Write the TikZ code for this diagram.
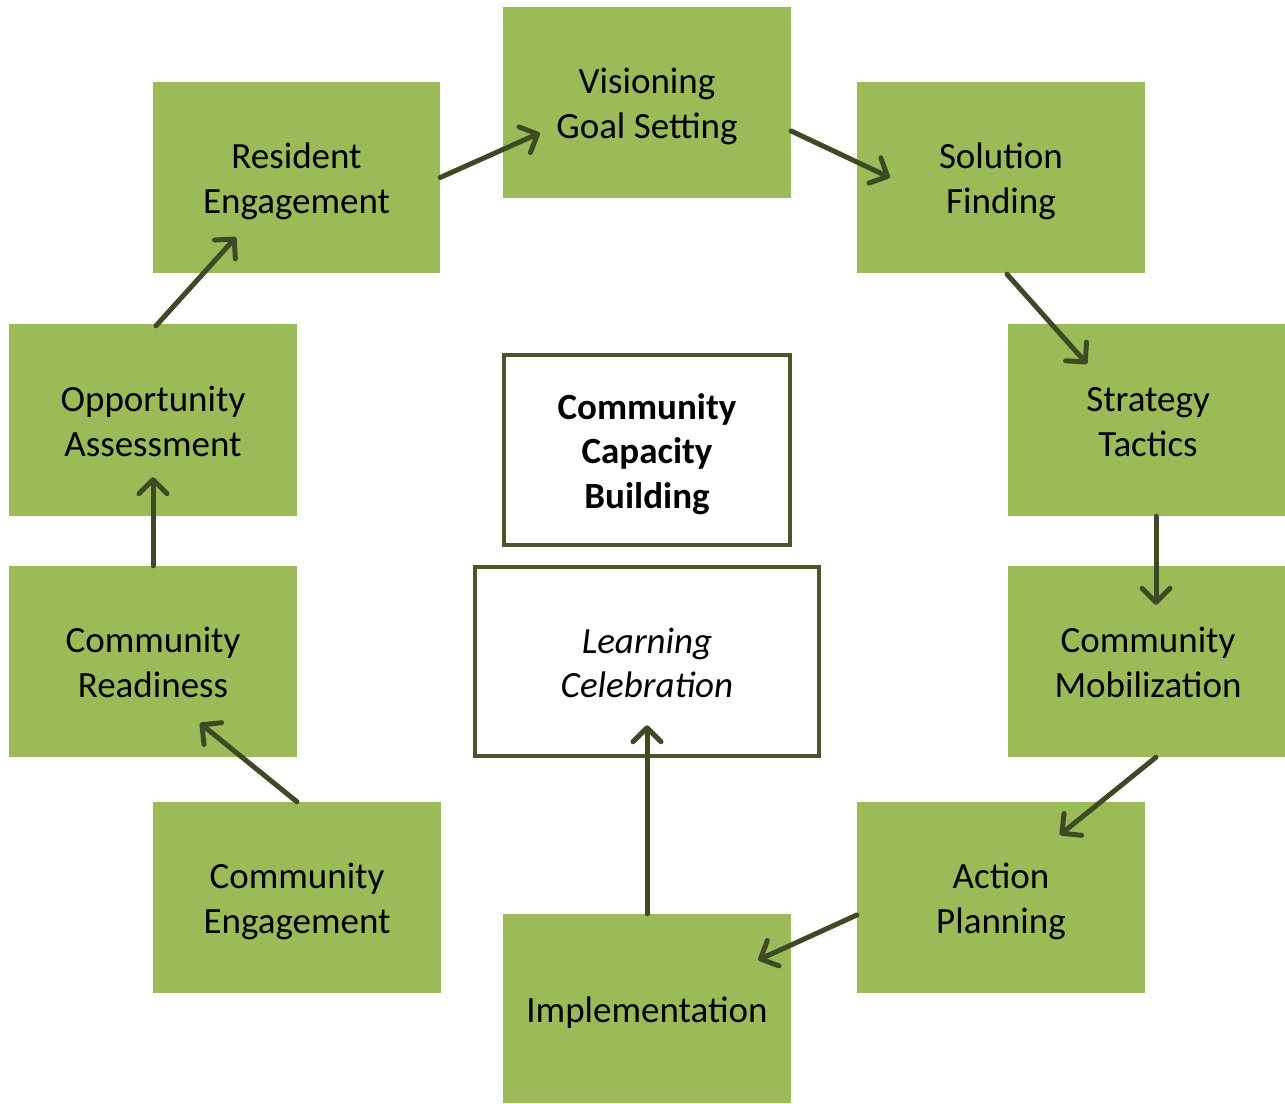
\documentclass[tikz,border=0pt]{standalone}
\usepackage{fontspec}
\setmainfont{Carlito}
\usetikzlibrary{arrows.meta}
\definecolor{boxgreen}{HTML}{9BBB59}
\definecolor{arrowcol}{HTML}{3E4A24}
\definecolor{framecol}{HTML}{48562A}
\newcommand\topstrut{\rule{0pt}{35.5pt}}
\newcommand\botstrut{\rule[-8pt]{0pt}{8pt}}
\begin{document}
\begin{tikzpicture}[x=1pt,y=-1pt,
  gbox/.style={fill=boxgreen, draw=none, inner sep=0pt, align=center,
    font=\fontsize{37}{45}\selectfont, text=black},
  wbox/.style={fill=white, draw=framecol, line width=4.5pt, inner sep=0pt, align=center,
    font=\fontsize{37}{44.5}\selectfont, text=black},
  flow/.style={draw=arrowcol, line width=5pt, line cap=round,
    -{Straight Barb[length=14pt,width=28pt,round]}}
]
\useasboundingbox (0,0) rectangle (1285,1103);
\node[gbox, minimum width=288pt, minimum height=191pt] (vis) at (647,102.5) {\topstrut Visioning\\Goal Setting\botstrut};
\node[gbox, minimum width=287pt, minimum height=191pt] (res) at (296.5,177.5) {\topstrut Resident\\Engagement\botstrut};
\node[gbox, minimum width=288pt, minimum height=191pt] (sol) at (1001,177.5) {\topstrut Solution\\Finding\botstrut};
\node[gbox, minimum width=288pt, minimum height=192pt] (opp) at (153,420) {\topstrut Opportunity\\Assessment\botstrut};
\node[gbox, minimum width=280pt, minimum height=192pt] (str) at (1148,420) {\topstrut Strategy\\Tactics\botstrut};
\node[gbox, minimum width=288pt, minimum height=191pt] (rdy) at (153,661.5) {\topstrut Community\\Readiness\botstrut};
\node[gbox, minimum width=280pt, minimum height=191pt] (mob) at (1148,661.5) {\topstrut Community\\Mobilization\botstrut};
\node[gbox, minimum width=288pt, minimum height=191pt] (ceng) at (297,897.5) {\topstrut Community\\Engagement\botstrut};
\node[gbox, minimum width=288pt, minimum height=191pt] (act) at (1001,897.5) {\topstrut Action\\Planning\botstrut};
\node[gbox, minimum width=288pt, minimum height=189pt] (imp) at (647,1008.5) {\topstrut Implementation\botstrut};
\node[wbox, minimum width=286pt, minimum height=190pt] (ccb) at (647,450) {\topstrut\bfseries Community\\\bfseries Capacity\\\bfseries Building\botstrut};
\node[wbox, minimum width=344pt, minimum height=189pt] (lrn) at (647,661.5) {\topstrut\itshape Learning\\\itshape Celebration\botstrut};

\draw[flow] (res.east) -- ([shift={(37,30.5)}]vis.west);
\draw[flow] ([shift={(0,28.5)}]vis.east) -- ([shift={(33,0)}]sol.west);
\draw[flow] ([shift={(6,1)}]sol.south) -- ([shift={(-61,40)}]str.north);
\draw[flow] ([shift={(8,0)}]str.south) -- ([shift={(8,39)}]mob.north);
\draw[flow] ([shift={(8,0)}]mob.south) -- ([shift={(59,33)}]act.north);
\draw[flow] ([shift={(0,17.5)}]act.west) -- ([shift={(-33,-48.5)}]imp.east);
\draw[flow] (imp.north) -- ([shift={(0,-33)}]lrn.south);
\draw[flow] (ceng.north) -- ([shift={(47,-34)}]rdy.south);
\draw[flow] (rdy.north) -- ([shift={(0,-39)}]opp.south);
\draw[flow] ([shift={(3,2)}]opp.north) -- ([shift={(-60.5,-36)}]res.south);
\end{tikzpicture}
\end{document}
